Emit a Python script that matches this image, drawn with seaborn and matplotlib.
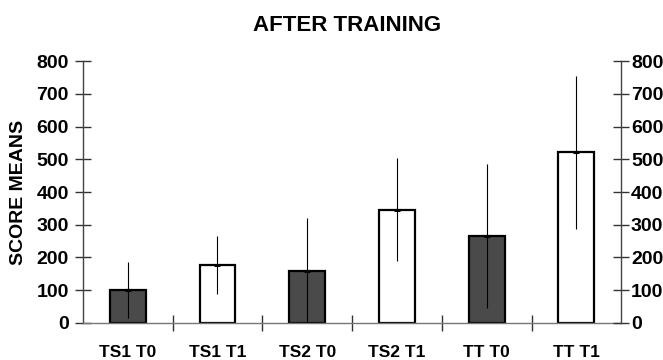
import matplotlib
matplotlib.use("Agg")
import matplotlib.pyplot as plt
import seaborn as sns
import numpy as np

# Score means after training, per group and session, with their spread
groups = ["TS1 T0", "TS1 T1", "TS2 T0", "TS2 T1", "TT T0", "TT T1"]
means = [100, 177, 160, 346, 265, 521]
spread = [86, 90, 162, 157, 220, 234]
bar_colors = ["#4a4a4a", "#ffffff", "#4a4a4a", "#ffffff", "#4a4a4a", "#ffffff"]
y_ticks = [0, 100, 200, 300, 400, 500, 600, 700, 800]

sns.set_theme(style="white")
plt.rcParams["font.family"] = ["Liberation Sans", "DejaVu Sans"]
plt.rcParams["font.weight"] = "bold"
plt.rcParams["text.color"] = "black"
plt.rcParams["axes.labelcolor"] = "black"
plt.rcParams["xtick.labelcolor"] = "black"
plt.rcParams["ytick.labelcolor"] = "black"

fig = plt.figure(figsize=(6.63, 3.6), dpi=100)
ax = fig.add_axes([0.125, 0.103, 0.812, 0.727])

sns.barplot(x=groups, y=means, hue=groups, palette=bar_colors, legend=False,
            width=0.4, edgecolor="black", linewidth=1.6, ax=ax, zorder=2)

pos = np.arange(len(groups))
lower = [min(s, m) for m, s in zip(means, spread)]
ax.errorbar(pos, means, yerr=[lower, spread], fmt="none", ecolor="black",
            elinewidth=0.8, capsize=0, zorder=3)
ax.plot(pos, means, linestyle="none", marker="_", markersize=5,
        markeredgewidth=2.2, color="black", zorder=4)

ax.set_xlim(-0.5, len(groups) - 0.5)
ax.set_ylim(0, 800)
ax.set_yticks(y_ticks)
ax.set_xticks(pos)
ax.set_xticks(pos[:-1] + 0.5, minor=True)
ax.tick_params(axis="x", which="major", length=0, pad=16, labelsize=12.5,
               labelcolor="black")
ax.tick_params(axis="x", which="minor", direction="inout", length=12,
               width=1, color="#333333", bottom=True)
ax.tick_params(axis="y", direction="inout", length=12, width=1,
               color="#333333", left=True, labelsize=14, pad=4,
               labelcolor="black")
for lab in ax.get_xticklabels() + ax.get_yticklabels():
    lab.set_fontweight("bold")

for side in ["top", "right"]:
    ax.spines[side].set_visible(False)
ax.spines["left"].set_color("#444444")
ax.spines["bottom"].set_color("#777777")
ax.spines["left"].set_linewidth(1.0)
ax.spines["bottom"].set_linewidth(1.0)

ax2 = ax.twinx()
ax2.set_ylim(0, 800)
ax2.set_yticks(y_ticks)
ax2.tick_params(axis="y", direction="inout", length=12, width=1,
                color="#333333", right=True, labelsize=14, pad=1,
                labelcolor="black")
for lab in ax2.get_yticklabels():
    lab.set_fontweight("bold")
for side in ["top", "left", "bottom"]:
    ax2.spines[side].set_visible(False)
ax2.spines["right"].set_color("#444444")
ax2.spines["right"].set_linewidth(1.0)

ax.set_ylabel("SCORE MEANS", fontsize=14, fontweight="bold", color="black")
ax.yaxis.set_label_coords(-0.104, 0.5)
ax.set_xlabel("")
fig.text(0.523, 0.93, "AFTER TRAINING", ha="center", va="center",
         fontsize=16, fontweight="bold", color="black")

fig.savefig("out.png", dpi=100, facecolor="white")
